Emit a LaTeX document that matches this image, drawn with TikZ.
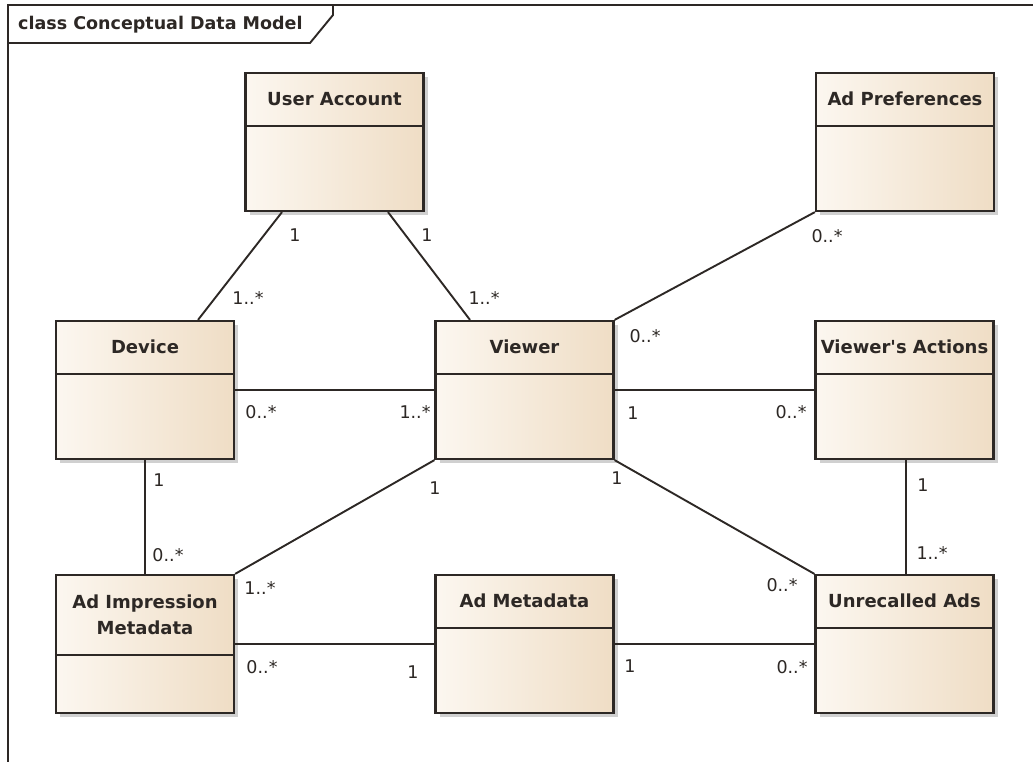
\documentclass[tikz,border=0pt]{standalone}
\usepackage{fontspec}
\setmainfont{DejaVu Sans}
\setsansfont{DejaVu Sans}
\usepackage{tikz}
\usetikzlibrary{shadows,positioning}
\definecolor{boxleft}{RGB}{252,247,240}
\definecolor{boxright}{RGB}{239,221,197}
\definecolor{ink}{RGB}{45,40,37}
\tikzstyle{every picture}+=[font=\sffamily]

\begin{document}
\begin{tikzpicture}
	[x=1pt, y=-1pt, inner sep=0pt,
	umlclass/.style	= {rectangle, draw=ink, line width=2.2pt, left color=boxleft, right color=boxright, minimum width=178pt, minimum height=138pt,
						drop shadow={shadow xshift=4pt, shadow yshift=-4pt, fill=black!30, opacity=.6}},
	head/.style		= {rectangle, draw=none, anchor=north, minimum width=178pt, minimum height=54pt, align=center, text=ink, font=\fontsize{18}{26}\selectfont\bfseries},
	divider/.style	= {draw=ink, line width=2.2pt},
	assoc/.style	= {draw=ink, line width=1.9pt},
	frame/.style	= {draw=ink, line width=1.9pt},
	mult/.style		= {text=ink, font=\fontsize{17.5}{20}\selectfont}]
	
	\path [use as bounding box, fill=white] (0,0) rectangle (1033,761);
	\clip (0,0) rectangle (1033,761);
	
	% frame
	\draw [frame] (8,775) -- (8,5) -- (1045,5);
	\draw [frame] (8,43) -- (310,43) -- (333,15) -- (333,5);
	\node at (18,25) [anchor=west, text=ink, font=\fontsize{17.5}{20}\selectfont\bfseries] (frametitle) {class Conceptual Data Model};
	
	% classes
	\node at (334.5, 142)	[umlclass]	(ua)	{};
	\node at (ua.north)		[head]		(uat)	{User Account};
	\node at (905, 142)		[umlclass]	(ap)	{};
	\node at (ap.north)		[head]		(apt)	{Ad Preferences};
	\node at (145, 390)		[umlclass]	(dev)	{};
	\node at (dev.north)	[head]		(devt)	{Device};
	\node at (524.5, 390)	[umlclass]	(vw)	{};
	\node at (vw.north)		[head]		(vwt)	{Viewer};
	\node at (904.5, 390)	[umlclass]	(va)	{};
	\node at (va.north)		[head]		(vat)	{Viewer\textquotesingle s Actions};
	\node at (145, 644)		[umlclass]	(ai)	{};
	\node at (ai.north)		[head, minimum height=81pt]	(ait)	{Ad Impression\\Metadata};
	\node at (524.5, 644)	[umlclass]	(am)	{};
	\node at (am.north)		[head]		(amt)	{Ad Metadata};
	\node at (904.5, 644)	[umlclass]	(ur)	{};
	\node at (ur.north)		[head]		(urt)	{Unrecalled Ads};
	
	\draw [divider] (uat.south -| ua.west) -- (uat.south -| ua.east);
	\draw [divider] (apt.south -| ap.west) -- (apt.south -| ap.east);
	\draw [divider] (devt.south -| dev.west) -- (devt.south -| dev.east);
	\draw [divider] (vwt.south -| vw.west) -- (vwt.south -| vw.east);
	\draw [divider] (vat.south -| va.west) -- (vat.south -| va.east);
	\draw [divider] (ait.south -| ai.west) -- (ait.south -| ai.east);
	\draw [divider] (amt.south -| am.west) -- (amt.south -| am.east);
	\draw [divider] (urt.south -| ur.west) -- (urt.south -| ur.east);
	
	% associations
	\draw [assoc] ([xshift=-52.5pt]ua.south) -- ([xshift=53pt]dev.north);
	\draw [assoc] ([xshift=53.5pt]ua.south) -- ([xshift=-54.5pt]vw.north);
	\draw [assoc] (ap.south west) -- (vw.north east);
	\draw [assoc] (dev.east) -- (vw.west);
	\draw [assoc] (vw.east) -- (va.west);
	\draw [assoc] (dev.south) -- (ai.north);
	\draw [assoc] (vw.south west) -- (ai.north east);
	\draw [assoc] (vw.south east) -- (ur.north west);
	\draw [assoc] ([xshift=1.5pt]va.south) -- ([xshift=1.5pt]ur.north);
	\draw [assoc] (ai.east) -- (am.west);
	\draw [assoc] (am.east) -- (ur.west);
	
	% multiplicities
	\node at (295, 235)	[mult]	(m1)	{1};
	\node at (248, 298)	[mult]	(m2)	{1..*};
	\node at (427, 235)	[mult]	(m3)	{1};
	\node at (484, 298)	[mult]	(m4)	{1..*};
	\node at (827, 236)	[mult]	(m5)	{0..*};
	\node at (645, 336)	[mult]	(m6)	{0..*};
	\node at (261, 412)	[mult]	(m7)	{0..*};
	\node at (415, 412)	[mult]	(m8)	{1..*};
	\node at (633, 413)	[mult]	(m9)	{1};
	\node at (791, 412)	[mult]	(m10)	{0..*};
	\node at (159, 480)	[mult]	(m11)	{1};
	\node at (168, 555)	[mult]	(m12)	{0..*};
	\node at (435, 488)	[mult]	(m13)	{1};
	\node at (260, 588)	[mult]	(m14)	{1..*};
	\node at (617, 478)	[mult]	(m15)	{1};
	\node at (782, 585)	[mult]	(m16)	{0..*};
	\node at (923, 485)	[mult]	(m17)	{1};
	\node at (932, 553)	[mult]	(m18)	{1..*};
	\node at (262, 667)	[mult]	(m19)	{0..*};
	\node at (413, 672)	[mult]	(m20)	{1};
	\node at (630, 666)	[mult]	(m21)	{1};
	\node at (792, 667)	[mult]	(m22)	{0..*};
\end{tikzpicture}
\end{document}
